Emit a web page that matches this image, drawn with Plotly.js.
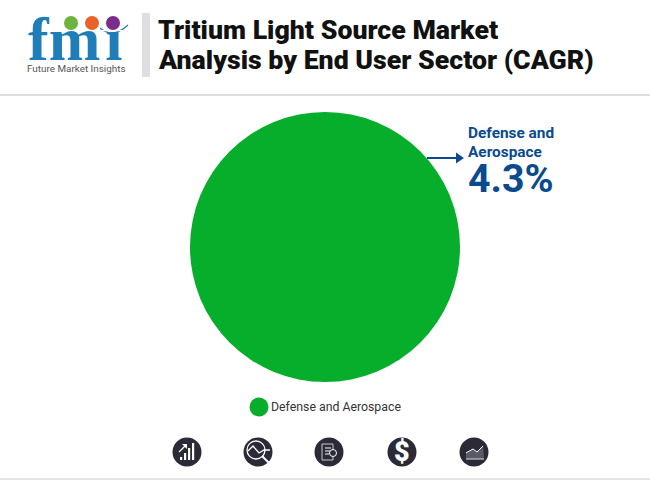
<!DOCTYPE html>
<html><head><meta charset="utf-8">
<script src="https://cdn.plot.ly/plotly-3.0.1.min.js"></script>
<style>html,body{margin:0;padding:0;background:#fff}</style></head>
<body><div id="c" style="width:650px;height:480px"></div>
<script>
const sectors = ["Defense and Aerospace"];
const cagrValues = [4.3];
const sectorColors = ["#07AE2B"];
const titleLines = ["Tritium Light Source Market", "Analysis by End User Sector (CAGR)"];
const W = 650, H = 480;
const px = x => x / W, py = y => 1 - y / H;
const path = pts => pts.map((p, i) => (i ? "L" : "M") + px(p[0]).toFixed(4) + "," + py(p[1]).toFixed(4)).join(" ");
const rect = (x0, y0, x1, y1, c) => ({type:"rect", xref:"paper", yref:"paper", x0:px(x0), x1:px(x1), y0:py(y0), y1:py(y1), fillcolor:c, line:{width:0}});
const circ = (cx, cy, r, c, lc, lw) => ({type:"circle", xref:"paper", yref:"paper", x0:px(cx-r), x1:px(cx+r), y0:py(cy+r), y1:py(cy-r), fillcolor:c, line:{width:lw||0, color:lc||c}});
const poly = (pts, c, close, w) => ({type:"path", xref:"paper", yref:"paper", path:path(pts)+(close?" Z":""), fillcolor:close?c:"rgba(0,0,0,0)", line:close?{width:0}:{width:w||1.3,color:c}});
const txt = (t, x, y, size, color, opt) => Object.assign({text:t, xref:"paper", yref:"paper", x:px(x), y:py(y), xanchor:"left", yanchor:"middle", showarrow:false, font:{family:"Roboto", size:size, color:color}}, opt||{});

const navy = "#0B4A8F", dark = "#2B2B38", logoBlue = "#1F7DB8";
const shapes = [
  rect(142,13,150,77,"#DEDEDE"),
  rect(0,94,650,96,"#DEDEDE"),
  rect(0,478,650,480,"#E6E6E6"),
  poly([[427,158],[458,158]], navy, false, 2),
  poly([[456,152.5],[464,158],[456,163.5]], navy, true),
  circ(259,407,9.5,sectorColors[0]),
  circ(71,23,7,"#6DB33F"), circ(92,23,7,"#E8622A"), circ(113,23,7,"#7B2D8E"),
  {type:"path", xref:"paper", yref:"paper", line:{width:1.2,color:logoBlue},
   path:"M"+px(100)+","+py(28)+" Q"+px(113)+","+py(39)+" "+px(128)+","+py(25)}
];
for (let y = 30; y < 62; y += 5.2) shapes.push(rect(26,y,128,y+1.3,"#FFFFFF"));
[187,258,329,402,474].forEach(x => shapes.push(circ(x,452,14.5,dark)));
[[180,3],[184,7],[188,12],[192,17]].forEach(b => shapes.push(rect(b[0],460-b[1],b[0]+2.2,460,"#FFFFFF")));
shapes.push(poly([[179,452],[186,445]],"#FFFFFF"), poly([[182,444],[187,444],[187,449]],"#FFFFFF",true));
shapes.push(circ(256,450,9,"rgba(0,0,0,0)","#FFFFFF",1.3), poly([[262,456],[270,464]],"#FFFFFF",false,2), poly([[248,451],[253,446],[259,453],[264,450],[270,450]],"#FFFFFF"));
shapes.push({type:"rect",xref:"paper",yref:"paper",x0:px(322),x1:px(333),y0:py(460),y1:py(444),fillcolor:"rgba(0,0,0,0)",line:{width:1,color:"#CCCCCC"}}, circ(333,453,3.5,dark,"#FFFFFF",1), poly([[325,448],[331,448]],"#CCCCCC"), poly([[325,451],[330,451]],"#CCCCCC"), poly([[325,454],[329,454]],"#CCCCCC"));
shapes.push(poly([[466,459],[466,453],[473,449],[477,452],[483,446],[484,459]],"#5A5A66",true), poly([[466,453],[473,449],[477,452],[483,446]],"#FFFFFF",false,1), poly([[466,459],[484,459]],"#DDDDDD",false,1));

const heavy = (s, c) => ({font:{family:"Roboto", size:s, color:c, weight:900}});
const annotations = [
  txt(titleLines[0],156,30.5,26.7,"#111111",heavy(26.7,"#111111")),
  txt(titleLines[1],156,60,26.7,"#111111",heavy(26.7,"#111111")),
  txt('<b>fm<span style="font-size:20px"> </span>ı</b>',26,39,62,logoBlue,{font:{family:"Liberation Serif",size:62,color:logoBlue}}),
  txt("Future Market Insights",25,68.5,9.9,"#555555",{font:{family:"Roboto",size:9.9,color:"#555555"}}),
  txt("<b>Defense and</b>",466,133,15.4,navy),
  txt("<b>Aerospace</b>",466,152,15.4,navy),
  txt("<b>"+cagrValues[0]+"%</b>",466,179,39.3,navy),
  txt(sectors[0],269,407,12.3,"#333333"),
  txt("$",402,452,27,"#FFFFFF",{xanchor:"center",font:{family:"Roboto",size:27,color:"#FFFFFF",weight:900}})
];

Plotly.newPlot("c",[{
  type:"pie", labels:sectors, values:cagrValues, marker:{colors:sectorColors},
  textinfo:"none", sort:false, hoverinfo:"label+percent",
  domain:{x:[px(190),px(460)], y:[py(382),py(112)]}
}],{
  width:W, height:H, margin:{l:0,r:0,t:0,b:0}, showlegend:false,
  paper_bgcolor:"#FFFFFF", shapes:shapes, annotations:annotations
},{displayModeBar:false});
</script></body></html>
